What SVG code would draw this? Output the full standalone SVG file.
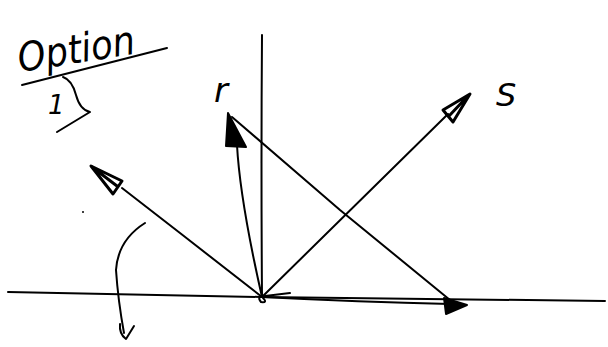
<svg xmlns="http://www.w3.org/2000/svg" width="608" height="347" viewBox="0 0 608 347">
<style>
.s{fill:none;stroke:#000;stroke-width:2;stroke-linecap:round;stroke-linejoin:round}
.h{fill:#000;stroke:#000;stroke-width:2;stroke-linejoin:round}
.o{fill:none;stroke:#000;stroke-width:3;stroke-linejoin:round}
.t{font-family:"DejaVu Sans",sans-serif;font-style:italic;fill:#000}
</style>
<rect width="608" height="347" fill="#fff"/>
<g id="title">
<text class="t" x="20" y="72" font-size="40" textLength="118" lengthAdjust="spacingAndGlyphs" transform="rotate(-9 20 72)">Option</text>
<path class="s" d="M22,85 L167,48"/>
<text class="t" x="48" y="114" font-size="26">1</text>
<path class="s" d="M63,77 Q72,80 76,95 Q80,110 90,112 L57,132"/>
</g>
<g id="label-r"><text class="t" x="214" y="102" font-size="34">r</text></g>
<g id="label-s"><text class="t" x="496" y="106" font-size="32">S</text></g>
<g id="dot"><circle cx="83" cy="212" r="1" fill="#000"/></g>
<g id="connectors">
<path class="s" d="M8,292 L262,297 Q400,299 605,301"/>
<path class="s" d="M262,297 Q360,302 450,304"/>
<path class="s" d="M262,35 Q261,160 262,297"/>
<path class="s" d="M262,297 L180,233 L122,188"/>
<path class="o" d="M91,166 L122,181 L113,194 Z M96,170 L117,186"/>
<path class="s" d="M262,297 Q240,200 237,145"/>
<path class="h" d="M228,113 L246,147 L226,146 Z"/>
<path class="s" d="M232,117 L340,210 L450,300"/>
<path class="s" d="M262,297 L448,114"/>
<path class="o" d="M470,94 L443,110 L453,122 Z M466,98 L449,116"/>
<path class="h" d="M467,305 L444,298 L446,314 Z"/>
<path class="s" d="M263,298 Q268,303 261,302 Q256,296 265,296 L290,293"/>
<path class="s" d="M145,223 Q118,240 116,270 Q118,300 124,333"/>
<path class="s" d="M120,324 Q119,334 126,339 L134,326"/>
</g>
</svg>
